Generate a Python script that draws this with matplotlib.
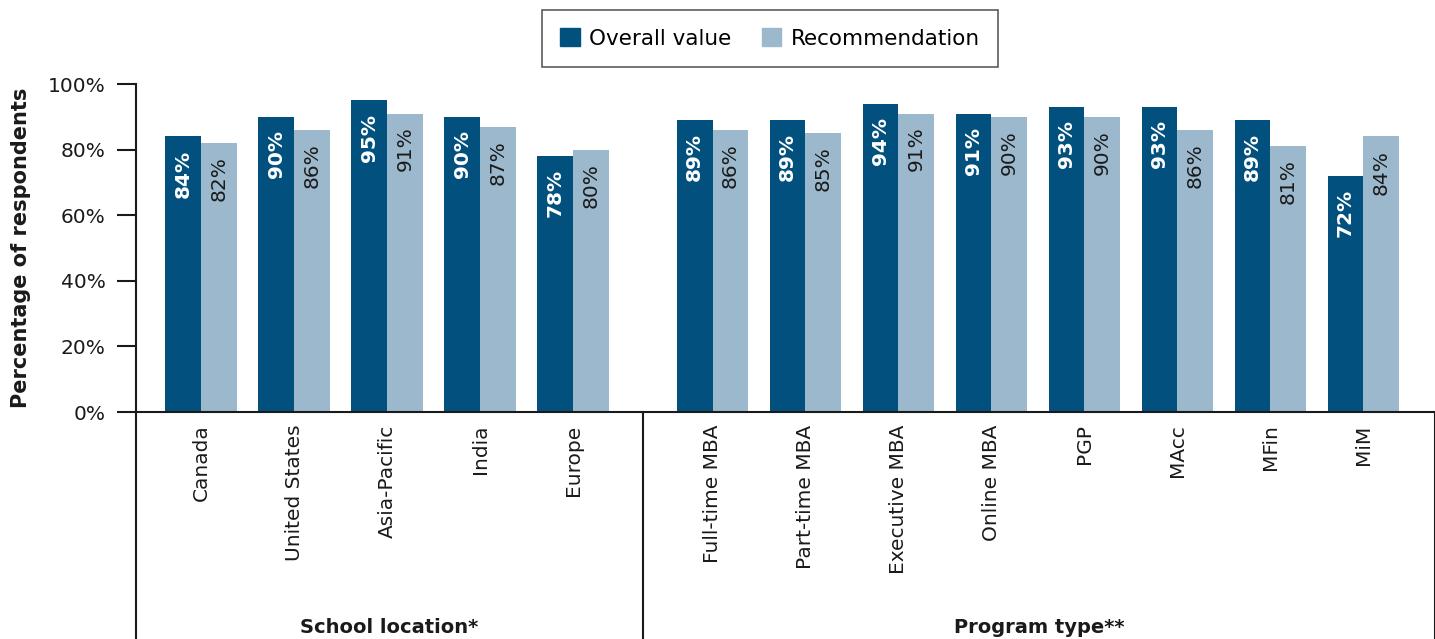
import numpy as np
import matplotlib.pyplot as plt
from matplotlib.patches import Patch
import matplotlib.transforms as mtransforms

plt.rcParams['font.family'] = ['DejaVu Sans']

# Data
locations = ["Canada", "United States", "Asia-Pacific", "India", "Europe"]
programs = ["Full-time MBA", "Part-time MBA", "Executive MBA", "Online MBA",
            "PGP", "MAcc", "MFin", "MiM"]
overall = [84, 90, 95, 90, 78, 89, 89, 94, 91, 93, 93, 89, 72]
recommend = [82, 86, 91, 87, 80, 86, 85, 91, 90, 90, 86, 81, 84]
group_names = ["School location*", "Program type**"]

dark = '#02507d'
light = '#9bb8cd'
ink = '#1a1a1a'

# x positions: gap of 1.5 between groups
pos = list(np.arange(len(locations))) + list(np.arange(len(programs)) + len(locations) + 0.5)
pos = np.array(pos, dtype=float)
labels = locations + programs
w = 0.385

fig = plt.figure(figsize=(14.35, 6.39), dpi=100)
ax = fig.add_axes([136 / 1435, 227 / 639, 1 - 136 / 1435, 328 / 639])

ax.bar(pos - w / 2, overall, w, color=dark)
ax.bar(pos + w / 2, recommend, w, color=light)

for x, v in zip(pos - w / 2, overall):
    ax.annotate(f"{v}%", (x, v), xytext=(0, -9.5), textcoords='offset points',
                rotation=90, ha='center', va='top', color='white',
                fontsize=14.5, fontweight='bold')
for x, v in zip(pos + w / 2, recommend):
    ax.annotate(f"{v}%", (x, v), xytext=(0, -9.5), textcoords='offset points',
                rotation=90, ha='center', va='top', color=ink,
                fontsize=14.5)

ax.set_xlim(-0.70, 13.27)
ax.set_ylim(0, 100)
ax.set_yticks(range(0, 101, 20))
ax.set_yticklabels([f"{t}%" for t in range(0, 101, 20)], fontsize=14.5, color=ink)
ax.set_xticks(pos)
ax.set_xticklabels(labels, rotation=90, va='top', fontsize=14.5, color=ink)
ax.tick_params(axis='x', length=0, pad=9)
ax.tick_params(axis='y', length=13.5, width=1.5, color=ink, pad=8.5)

for s in ['top', 'right']:
    ax.spines[s].set_visible(False)
for s in ['left', 'bottom']:
    ax.spines[s].set_linewidth(1.5)
    ax.spines[s].set_color(ink)

ax.set_ylabel("Percentage of respondents", fontsize=15, fontweight='bold',
              color=ink, labelpad=12)

# group brackets below the axis
trans = mtransforms.blended_transform_factory(ax.transData, ax.transAxes)
sep = (pos[len(locations) - 1] + pos[len(locations)]) / 2
for xv in [-0.70, sep, 13.27]:
    ax.plot([xv, xv], [0, -0.70], transform=trans, color=ink,
            lw=1.5, clip_on=False)
centers = [(-0.70 + sep) / 2, (sep + 13.27) / 2]
for c, name in zip(centers, group_names):
    ax.text(c, -0.657, name, transform=trans, ha='center', va='center',
            fontsize=14, fontweight='bold', color=ink)

handles = [Patch(color=dark), Patch(color=light)]
leg = fig.legend(handles, ["Overall value", "Recommendation"], ncol=2,
                 loc='upper center', bbox_to_anchor=(770 / 1435, 1 - 10 / 639),
                 borderaxespad=0,
                 fontsize=15.5, frameon=True, fancybox=False, edgecolor='#333333',
                 handlelength=0.9, handleheight=0.9, columnspacing=1.4,
                 borderpad=0.85, handletextpad=0.45)
leg.get_frame().set_linewidth(1.2)

fig.savefig("out.png", dpi=100)
